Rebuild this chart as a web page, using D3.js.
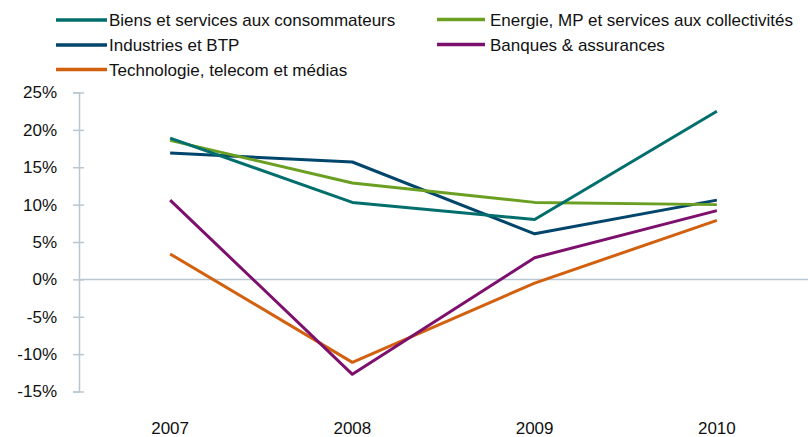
<!DOCTYPE html>
<html>
<head>
<meta charset="utf-8">
<script src="https://cdnjs.cloudflare.com/ajax/libs/d3/7.8.5/d3.min.js"></script>
<style>
  body { margin: 0; background: #fff; }
  text { font-family: "Liberation Sans Narrow", "Arial Narrow", "Liberation Sans", sans-serif; fill: #111; }
</style>
</head>
<body>
<script>
const years = ['2007', '2008', '2009', '2010'];
const seriesNames = [
  'Biens et services aux consommateurs',
  'Energie, MP et services aux collectivités',
  'Industries et BTP',
  'Banques & assurances',
  'Technologie, telecom et médias'
];
const biens = [18.9, 10.3, 8.0, 22.5];
const energie = [18.6, 12.9, 10.3, 10.0];
const industries = [16.9, 15.7, 6.1, 10.6];
const banques = [10.6, -12.7, 2.9, 9.2];
const techno = [3.4, -11.1, -0.5, 7.9];
const colors = ['#006e6c', '#6a9f22', '#00456b', '#7d0f6d', '#d2600e'];
const yTicks = [-15, -10, -5, 0, 5, 10, 15, 20, 25];

const W = 810, H = 437;
const plotLeft = 79, plotRight = 808, plotTop = 92.5, plotBottom = 391.5;

const svg = d3.select('body').append('svg')
  .attr('width', W)
  .attr('height', H);

const x = d3.scaleBand().domain(years).range([plotLeft, plotRight]);
const y = d3.scaleLinear().domain([-15, 25]).range([plotBottom, plotTop]);

// y axis
const yAxis = svg.append('g')
  .attr('transform', `translate(${plotLeft},0)`)
  .call(d3.axisLeft(y).tickValues(yTicks).tickSize(6).tickPadding(16).tickFormat(d => d + '%'));
yAxis.select('.domain').attr('stroke', '#b9c7d2').attr('stroke-width', 1.5);
yAxis.selectAll('.tick line').attr('stroke', '#b9c7d2').attr('stroke-width', 1.5).attr('x2', 5).attr('x1', -6);
yAxis.selectAll('.tick text').attr('font-size', 17).attr('fill', '#111')
  .style('font-family', '"Liberation Sans Narrow", "Arial Narrow", sans-serif');

// zero line
svg.append('line')
  .attr('x1', plotLeft).attr('x2', plotRight)
  .attr('y1', y(0)).attr('y2', y(0))
  .attr('stroke', '#b9c7d2').attr('stroke-width', 1.5);

// x labels
svg.selectAll('.xlab')
  .data(years)
  .enter()
  .append('text')
  .attr('class', 'xlab')
  .attr('x', d => x(d) + x.bandwidth() / 2)
  .attr('y', 434)
  .attr('text-anchor', 'middle')
  .attr('font-size', 17)
  .text(d => d);

const allSeries = [biens, energie, industries, banques, techno];
const line = d3.line()
  .x((d, i) => x(years[i]) + x.bandwidth() / 2)
  .y(d => y(d));

// draw back to front so teal sits on top like the original
const order = [4, 3, 2, 1, 0];
order.forEach(k => {
  svg.append('path')
    .datum(allSeries[k])
    .attr('d', line)
    .attr('fill', 'none')
    .attr('stroke', colors[k])
    .attr('stroke-width', 3)
    .attr('stroke-linejoin', 'round');
});

// legend
const legendPos = [
  [56, 20], [437, 19.5],
  [56, 45], [437, 44.5],
  [56, 69.5]
];
const legend = svg.selectAll('.leg')
  .data(seriesNames)
  .enter()
  .append('g')
  .attr('class', 'leg')
  .attr('transform', (d, i) => `translate(${legendPos[i]})`);

legend.append('line')
  .attr('x1', 0).attr('x2', (d, i) => i % 2 ? 48 : 51)
  .attr('stroke', (d, i) => colors[i])
  .attr('stroke-width', 3.5);

legend.append('text')
  .attr('x', 53)
  .attr('y', 6)
  .attr('font-size', 17)
  .text(d => d);
</script>
</body>
</html>
